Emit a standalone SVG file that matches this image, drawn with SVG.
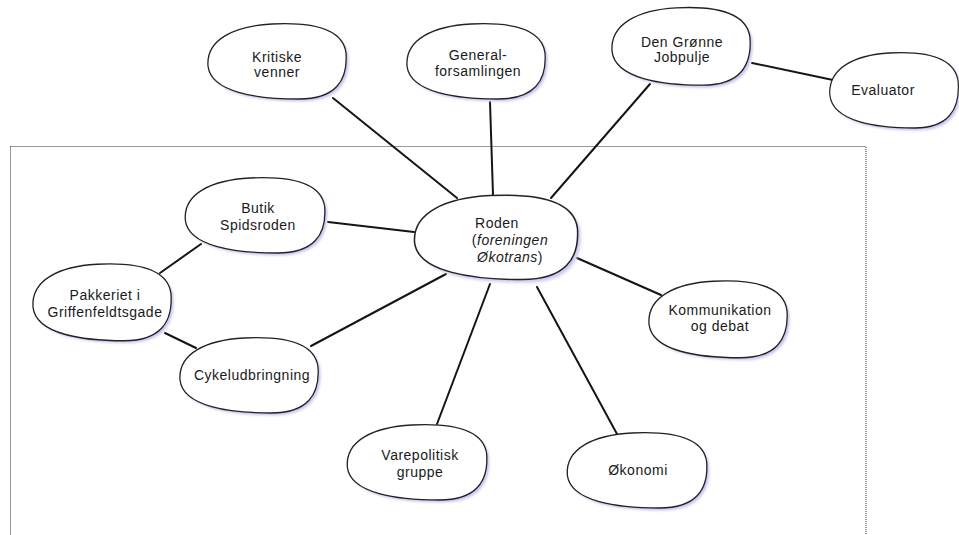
<svg xmlns="http://www.w3.org/2000/svg" xmlns:xlink="http://www.w3.org/1999/xlink" width="959" height="535" viewBox="0 0 959 535">
<style>
.edge{stroke:#151515;stroke-width:2;fill:none;stroke-linecap:round}
.blob{fill:#fff;stroke:#222;stroke-width:1.3;vector-effect:non-scaling-stroke}
.shadow{fill:#c9c9f2;stroke:none}
text{font-family:"Liberation Sans",Arial,sans-serif;font-size:14px;fill:#1a1a1a;text-anchor:middle;letter-spacing:0.5px}
.frame{fill:none;stroke:#333;stroke-width:1;stroke-dasharray:1 1}
</style>
<defs>
<path id="shape" d="M -5,-37 C 35,-39 66,-32 69,-8 C 71,20 58,38 22,38 C -18,38 -66,32 -69,5 C -71,-22 -42,-35 -5,-37 Z"/>
<filter id="soft" x="-10%" y="-10%" width="130%" height="130%"><feGaussianBlur stdDeviation="1.2"/></filter>
</defs>
<rect class="frame" x="10.5" y="146.5" width="855.5" height="400"/>
<g id="connectors">
<line class="edge" x1="333" y1="98" x2="457" y2="198"/>
<line class="edge" x1="490" y1="102" x2="493" y2="195"/>
<line class="edge" x1="650" y1="84" x2="551" y2="198"/>
<line class="edge" x1="752" y1="63" x2="833" y2="80"/>
<line class="edge" x1="328" y1="222" x2="414" y2="232"/>
<line class="edge" x1="201" y1="244" x2="160" y2="273"/>
<line class="edge" x1="165" y1="333" x2="196" y2="348"/>
<line class="edge" x1="311" y1="346" x2="446" y2="274"/>
<line class="edge" x1="577" y1="258" x2="661" y2="295"/>
<line class="edge" x1="490" y1="284" x2="437" y2="424"/>
<line class="edge" x1="537" y1="287" x2="617" y2="434"/>
</g>
<g id="kritiske">
<use xlink:href="#shape" class="shadow" filter="url(#soft)" transform="translate(279.5,63.5)"/>
<use xlink:href="#shape" class="blob" transform="translate(277,61)"/>
<text x="277" y="62">Kritiske</text><text x="277" y="77">venner</text>
</g>
<g id="generalforsamlingen">
<use xlink:href="#shape" class="shadow" filter="url(#soft)" transform="translate(478.5,63.5)"/>
<use xlink:href="#shape" class="blob" transform="translate(476,61)"/>
<text x="478" y="60">General-</text><text x="478" y="76">forsamlingen</text>
</g>
<g id="jobpulje">
<use xlink:href="#shape" class="shadow" filter="url(#soft)" transform="translate(683.5,48.5) scale(1,1.03)"/>
<use xlink:href="#shape" class="blob" transform="translate(681,46) scale(1,1.03)"/>
<text x="682" y="47">Den Grønne</text><text x="682" y="62">Jobpulje</text>
</g>
<g id="evaluator">
<use xlink:href="#shape" class="shadow" filter="url(#soft)" transform="translate(896.5,92.5) scale(0.93,1)"/>
<use xlink:href="#shape" class="blob" transform="translate(894,90) scale(0.93,1)"/>
<text x="883" y="95">Evaluator</text>
</g>
<g id="butik">
<use xlink:href="#shape" class="shadow" filter="url(#soft)" transform="translate(257.5,217.5) scale(1.01,1)"/>
<use xlink:href="#shape" class="blob" transform="translate(255,215) scale(1.01,1)"/>
<text x="258" y="213">Butik</text><text x="258" y="230">Spidsroden</text>
</g>
<g id="roden">
<use xlink:href="#shape" class="shadow" filter="url(#soft)" transform="translate(499,240) scale(1.18,1.12)"/>
<use xlink:href="#shape" class="blob" transform="translate(496,237) scale(1.18,1.12)"/>
<text x="497" y="228">Roden</text>
<text x="510" y="245">(<tspan font-style="italic">foreningen</tspan></text>
<text x="510" y="262"><tspan font-style="italic">Økotrans</tspan>)</text>
</g>
<g id="pakkeriet">
<use xlink:href="#shape" class="shadow" filter="url(#soft)" transform="translate(104.5,304.5) scale(1,1.02)"/>
<use xlink:href="#shape" class="blob" transform="translate(102,302) scale(1,1.02)"/>
<text x="105" y="300">Pakkeriet i</text><text x="105" y="317">Griffenfeldtsgade</text>
</g>
<g id="cykeludbringning">
<use xlink:href="#shape" class="shadow" filter="url(#soft)" transform="translate(251.5,377.5)"/>
<use xlink:href="#shape" class="blob" transform="translate(249,375)"/>
<text x="252" y="380">Cykeludbringning</text>
</g>
<g id="kommunikation">
<use xlink:href="#shape" class="shadow" filter="url(#soft)" transform="translate(720.5,321.5) scale(1,1.02)"/>
<use xlink:href="#shape" class="blob" transform="translate(718,319) scale(1,1.02)"/>
<text x="720" y="315">Kommunikation</text><text x="720" y="331">og debat</text>
</g>
<g id="varepolitisk">
<use xlink:href="#shape" class="shadow" filter="url(#soft)" transform="translate(419.5,464.5) scale(1.01,1)"/>
<use xlink:href="#shape" class="blob" transform="translate(417,462) scale(1.01,1)"/>
<text x="420" y="460">Varepolitisk</text><text x="420" y="477">gruppe</text>
</g>
<g id="okonomi">
<use xlink:href="#shape" class="shadow" filter="url(#soft)" transform="translate(639.5,472.5) scale(1.01,1)"/>
<use xlink:href="#shape" class="blob" transform="translate(637,470) scale(1.01,1)"/>
<text x="638" y="475">Økonomi</text>
</g>
</svg>
